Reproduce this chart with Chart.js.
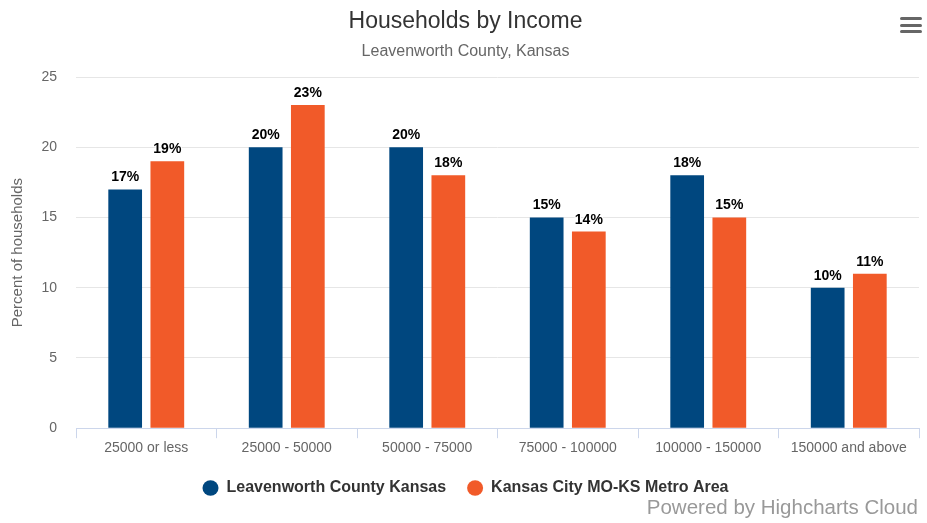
<!DOCTYPE html>
<html>
<head>
<meta charset="utf-8">
<script src="https://cdn.jsdelivr.net/npm/chart.js@4.4.1/dist/chart.umd.min.js"></script>
<style>
  html, body { margin: 0; padding: 0; background: #fff; }
  #wrap { position: relative; width: 927px; height: 523px; overflow: hidden; }
  #menu { position: absolute; left: 900px; top: 17px; width: 22px; }
  #menu span { display: block; height: 3px; background: #666; border-radius: 1.5px; margin-bottom: 3.5px; }
  #credit { position: absolute; right: 9px; top: 497px; font: 20.5px "Liberation Sans", Arial, sans-serif; line-height: 20px; color: #999; white-space: nowrap; }
</style>
</head>
<body>
<div id="wrap">
  <canvas id="c" width="927" height="523"></canvas>
  <div id="menu"><span></span><span></span><span></span></div>
  <div id="credit">Powered by Highcharts Cloud</div>
</div>
<script>
const chartTitle = 'Households by Income';
const chartSubtitle = 'Leavenworth County, Kansas';
const yAxisTitle = 'Percent of households';
const categories = ['25000 or less', '25000 - 50000', '50000 - 75000', '75000 - 100000', '100000 - 150000', '150000 and above'];
const seriesNames = ['Leavenworth County Kansas', 'Kansas City MO-KS Metro Area'];
const leavenworth = [17, 20, 20, 15, 18, 10];
const kansasCity = [19, 23, 18, 14, 15, 11];
const yMin = 0, yMax = 25, yStep = 5;

const FONT = '"Liberation Sans", Arial, Helvetica, sans-serif';

const dataLabelPlugin = {
  id: 'dataLabels',
  afterDatasetsDraw(chart) {
    const ctx = chart.ctx;
    ctx.save();
    ctx.font = 'bold 14px ' + FONT;
    ctx.textAlign = 'center';
    ctx.textBaseline = 'alphabetic';
    ctx.lineJoin = 'round';
    chart.data.datasets.forEach((ds, i) => {
      const meta = chart.getDatasetMeta(i);
      meta.data.forEach((bar, j) => {
        const txt = ds.data[j] + '%';
        ctx.lineWidth = 2;
        ctx.strokeStyle = '#ffffff';
        ctx.strokeText(txt, bar.x, bar.y - 8);
        ctx.fillStyle = '#000000';
        ctx.fillText(txt, bar.x, bar.y - 8);
      });
    });
    ctx.restore();
  }
};

new Chart(document.getElementById('c'), {
  type: 'bar',
  data: {
    labels: categories,
    datasets: [
      { label: seriesNames[0], data: leavenworth, backgroundColor: '#00477f', borderWidth: 0, categoryPercentage: 0.6, barPercentage: 0.8 },
      { label: seriesNames[1], data: kansasCity, backgroundColor: '#f15a29', borderWidth: 0, categoryPercentage: 0.6, barPercentage: 0.8 }
    ]
  },
  options: {
    responsive: false,
    animation: false,
    devicePixelRatio: 1,
    layout: { padding: { top: 0, left: 12, right: 8, bottom: 17 } },
    plugins: {
      title: {
        display: true, text: chartTitle, color: '#333333',
        font: { family: FONT, size: 23, weight: 'normal', lineHeight: 1.2 },
        padding: { top: 8, bottom: 0 }
      },
      subtitle: {
        display: true, text: chartSubtitle, color: '#666666',
        font: { family: FONT, size: 16, weight: 'normal', lineHeight: 1.2 },
        padding: { top: 6.8, bottom: 15.4 }
      },
      legend: {
        position: 'bottom',
        labels: {
          usePointStyle: true, pointStyle: 'circle', boxHeight: 11, boxWidth: 16, pointStyleWidth: 16,
          padding: 21, color: '#333333',
          font: { family: FONT, size: 16, weight: 'bold' }
        }
      },
      tooltip: { enabled: false }
    },
    scales: {
      x: {
        grid: { display: true, drawOnChartArea: false, drawTicks: true, tickLength: 10, color: '#ccd6eb', offset: true },
        border: { display: true, color: '#ccd6eb' },
        ticks: { color: '#666666', font: { family: FONT, size: 14 }, padding: 2, maxRotation: 0, autoSkip: false }
      },
      y: {
        min: yMin, max: yMax,
        ticks: { stepSize: yStep, color: '#666666', font: { family: FONT, size: 14 }, padding: 19 },
        grid: { color: '#e6e6e6', drawTicks: false },
        border: { display: false },
        title: {
          display: true, text: yAxisTitle, color: '#666666',
          font: { family: FONT, size: 15, lineHeight: 1.2 },
          padding: { top: -3, bottom: 0 }
        },
        afterFit(scale) { scale.width = 64; }
      }
    }
  },
  plugins: [dataLabelPlugin]
});
</script>
</body>
</html>
